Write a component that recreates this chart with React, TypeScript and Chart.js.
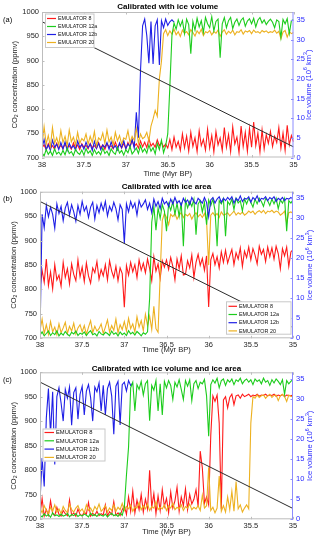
import React, { useEffect, useRef } from "react";
import { Chart, registerables } from "chart.js";
Chart.register(...registerables);

const FONT = "'Liberation Sans', Arial, Helvetica, sans-serif";

// sampling grid of the model runs: 38 -> 35 Myr BP every 0.025 Myr (121 samples)
const TIMES: number[] = Array.from({ length: 121 }, (_, i) => Math.round((38 - 0.025 * i) * 1000) / 1000);

const X_TICKS = [38, 37.5, 37, 36.5, 36, 35.5, 35];
const CO2_TICKS = [700, 750, 800, 850, 900, 950, 1000];
const ICE_TICKS = [0, 5, 10, 15, 20, 25, 30, 35];

// prescribed CO2 (left axis)
const CO2_TIMES = [38, 35];
const CO2_VALUES = [980, 722];

const SERIES_NAMES = ["EMULATOR 8", "EMULATOR 12a", "EMULATOR 12b", "EMULATOR 20"];
const SERIES_COLORS = ["#ff1a1a", "#1ccc1c", "#1f1fe6", "#edb120"];

// ---- (a) calibrated with ice volume (ice volume, 10^6 km^3) ----
const A_E8 = [2.5,3.2,2.0,3.5,2.4,3.0,2.1,3.6,2.3,3.1,
  2.2,3.4,2.6,3.0,2.1,3.7,2.4,3.2,2.0,3.5,
  2.6,3.1,2.2,3.6,2.5,3.0,2.3,3.8,2.4,3.2,
  2.1,3.5,2.7,3.0,2.2,3.9,2.5,3.3,2.4,3.6,
  2.2,3.8,2.6,4.4,2.8,3.5,2.4,4.2,2.7,3.9,
  2.5,4.8,2.9,3.6,2.6,4.5,3.0,3.8,2.7,3.4,
  2.4,4.6,2.0,5.2,2.6,4.1,1.8,6.0,2.5,5.4,
  1.6,6.4,2.8,5.0,1.5,6.8,3.0,4.6,1.9,7.2,
  2.4,5.6,1.4,6.6,3.2,5.0,1.8,7.6,2.6,5.8,
  1.5,7.8,3.4,5.2,1.2,8.0,2.8,6.4,1.6,7.4,
  2.6,9.0,3.0,6.2,1.4,7.0,2.2,5.8,3.6,6.6,
  2.8,5.4,3.8,7.6,2.4,6.2,1.8,8.2,3.2,5.6,4.0];
const A_E12A = [1.2,0.4,2.0,0.8,1.6,0.5,2.2,0.9,1.4,0.6,
  1.8,0.7,2.4,1.0,1.5,0.5,2.1,1.2,0.8,1.9,
  0.6,2.3,1.1,1.7,0.5,2.0,0.9,1.5,0.7,2.4,
  1.0,1.6,0.5,2.2,1.3,0.8,2.6,1.1,1.8,0.6,
  2.0,1.2,2.8,0.9,1.6,2.4,1.0,3.0,1.4,2.2,
  1.1,3.2,1.6,2.5,0.9,3.6,2.0,4.4,1.2,3.0,
  6.0,18.0,31.0,34.2,32.6,35.0,33.4,34.8,31.5,35.2,
  33.8,26.4,34.6,32.4,35.4,33.2,34.8,31.8,35.6,34.0,
  33.0,35.8,32.2,34.6,35.2,25.4,34.0,35.6,33.0,34.8,
  35.6,32.8,34.4,35.2,33.6,34.9,35.5,33.4,34.7,35.3,
  34.0,35.4,33.2,34.9,35.6,34.2,35.0,33.8,34.6,35.2,
  34.4,33.0,35.0,34.6,30.5,35.1,34.0,35.3,31.5,34.8,35.1];
const A_E12B = [2.4,4.6,2.0,3.2,1.8,4.4,2.6,3.4,2.0,3.8,
  2.2,4.0,1.8,3.6,2.4,3.0,1.9,4.2,2.6,3.3,
  2.1,3.9,2.5,3.4,1.8,4.1,2.3,3.6,2.0,3.2,
  2.6,3.8,2.1,4.0,2.4,3.0,1.9,3.7,2.5,4.3,
  2.2,3.5,2.8,4.6,2.4,11.5,5.0,22.0,33.5,35.2,
  31.0,24.0,34.6,23.8,33.5,35.0,23.5,34.8,33.0,35.2,
  33.6,34.5,35.0,34.4];
const A_E20 = [3.0,7.8,3.4,5.6,2.8,7.6,3.6,5.0,3.2,6.8,
  3.8,5.4,3.0,7.0,4.0,5.2,3.2,6.4,3.6,4.8,
  4.2,6.0,3.4,5.4,3.8,6.6,3.0,5.0,4.4,6.2,
  3.6,7.0,4.0,5.2,3.2,6.4,4.2,5.6,3.4,5.0,
  4.6,6.8,3.8,5.4,4.4,7.4,3.6,6.0,4.8,5.2,
  6.4,4.2,8.0,9.8,12.0,10.5,20.0,24.5,31.5,32.5,
  31.0,32.2,31.4,32.6,31.2,32.0,30.8,32.4,31.6,32.0,
  31.2,32.5,31.8,30.9,32.2,31.5,32.6,31.0,32.0,31.7,
  32.3,31.2,32.0,31.6,32.4,30.8,31.9,32.5,31.3,32.1,
  31.6,32.4,31.2,32.0,31.8,32.5,31.4,32.2,31.9,32.3,
  31.5,32.4,31.8,32.0,31.6,32.3,31.9,32.2,31.7,32.0,
  31.8,32.4,31.6,32.1,30.2,31.9,32.3,30.6,32.0,31.5,31.8];

// ---- (b) calibrated with ice area ----
const B_E8 = [12.5,17.0,14.0,19.8,13.2,16.6,12.4,18.4,14.6,15.8,
  13.0,19.0,15.2,17.4,13.6,18.6,16.0,14.4,19.6,15.4,
  17.8,14.2,18.8,15.6,13.8,17.6,16.4,19.2,14.8,17.2,
  15.6,18.4,14.6,19.4,16.8,15.2,18.0,14.4,17.6,16.2,
  7.8,18.2,15.8,19.0,16.6,18.4,15.2,19.6,17.0,18.8,
  16.4,19.8,17.4,14.4,20.4,16.8,18.6,15.0,19.4,17.8,
  19.6,17.2,20.2,18.0,14.6,19.8,17.4,20.6,15.8,16.0,
  19.4,17.6,20.8,15.2,19.0,21.0,18.2,20.0,17.0,20.6,
  7.8,19.6,21.2,18.4,20.4,17.6,21.6,19.0,22.0,18.8,
  20.6,22.2,18.4,21.4,19.8,22.6,18.0,21.8,20.2,22.8,
  19.6,22.4,20.8,18.6,23.0,21.0,22.2,19.2,22.8,20.4,
  22.6,19.8,23.0,21.2,17.4,22.4,20.6,22.8,18.0,21.6,22.2];
const B_E12A = [0.8,1.6,0.6,1.2,1.8,0.7,1.4,0.9,1.9,0.6,
  1.3,0.8,1.7,1.0,0.6,1.5,1.1,1.8,0.7,1.3,
  1.0,1.6,0.7,1.4,1.9,0.9,1.2,0.6,1.7,1.1,
  0.8,1.5,1.2,0.7,1.8,1.0,1.4,0.6,1.6,0.9,
  1.3,0.7,1.9,1.1,1.5,0.8,1.7,1.2,0.6,1.4,
  1.0,1.6,10.0,29.0,33.0,27.0,32.6,30.0,33.4,31.8,
  26.8,33.6,32.0,34.2,31.0,33.8,30.5,34.0,23.0,34.6,
  32.6,34.2,33.0,34.8,25.9,33.6,34.4,31.6,34.0,28.4,
  34.6,33.2,34.8,32.0,23.0,34.4,33.6,34.9,25.5,34.2,
  33.4,34.8,32.2,35.0,33.8,34.4,31.8,34.9,33.6,35.0,
  34.0,32.8,34.8,33.6,35.0,34.2,33.0,34.9,34.4,33.2,
  34.8,33.6,35.0,32.4,34.6,33.8,35.0,26.8,34.4,33.8,34.6];
const B_E12B = [0.5,31.0,27.6,33.2,30.4,32.8,31.0,27.5,33.6,31.2,
  33.0,29.4,32.6,34.0,30.8,33.4,31.6,29.3,33.2,31.0,
  34.2,31.8,33.0,30.2,32.8,34.0,29.8,33.2,31.4,33.8,
  32.0,34.2,30.6,33.0,31.8,34.0,32.4,29.6,33.4,32.2,
  23.8,33.6,31.6,34.2,32.6,33.8,30.8,34.4,32.8,33.6,
  34.6,32.2,33.8,31.4,34.8,33.0,34.2,32.4,35.0,33.6,
  34.2,33.0,34.8,33.6,35.2,33.8,34.4,33.2,35.0,34.0,
  34.6,33.4,35.2,34.2,33.6,35.0,34.4,33.8,35.2,34.0,
  30.4,34.6,35.2,33.8,34.8,35.4,34.0,35.0,34.4,35.2,
  34.6,35.4,33.8,35.0,34.4,35.6,34.2,35.0,34.8,35.4,
  34.0,35.2,34.6,35.6,34.2,35.0,34.8,35.4,34.4,35.2,
  34.8,35.4,34.2,35.0,34.6,35.2,34.4,35.0,34.8,35.2,34.6];
const B_E20 = [2.0,4.8,1.2,3.4,1.0,4.2,1.6,2.8,0.9,3.6,
  1.4,2.6,4.0,1.2,3.0,1.8,3.8,1.1,2.6,3.4,
  1.6,3.2,1.0,2.8,4.4,1.4,3.0,1.8,2.4,3.6,
  1.2,2.8,4.6,1.6,3.2,2.0,4.8,1.4,3.4,2.2,
  4.2,1.8,5.0,2.4,3.6,1.6,5.4,2.8,4.4,1.9,
  6.0,3.2,5.6,2.2,8.0,2.4,1.5,16.0,29.5,31.2,
  30.2,28.4,31.0,30.4,31.2,29.8,30.8,31.4,30.2,31.0,
  30.6,31.2,29.8,30.8,31.4,30.4,31.0,30.2,31.2,29.4,
  18.3,30.8,31.4,30.6,31.2,30.2,31.6,30.8,31.0,31.4,
  30.6,31.2,31.8,30.8,31.4,31.0,31.6,30.8,31.2,31.8,
  31.4,31.8,31.0,31.6,31.9,31.4,32.0,31.2,31.8,31.6,
  32.0,31.4,31.8,31.6,30.8,31.2,31.8,28.8,31.4,31.6,31.2];

// ---- (c) calibrated with ice volume and ice area ----
const C_E8 = [1.2,5.2,0.8,2.4,1.0,4.6,1.4,0.9,3.0,1.2,
  0.8,2.2,1.4,0.9,4.8,1.0,1.6,0.8,2.6,1.2,
  0.9,1.8,1.3,4.2,0.8,1.5,1.0,2.0,0.9,1.4,
  1.1,3.6,0.8,1.9,1.2,4.4,1.0,1.6,0.9,2.4,
  3.4,1.2,5.6,2.0,7.0,1.6,4.8,2.4,6.2,1.8,
  5.0,2.6,12.2,3.0,6.4,1.4,5.8,2.2,7.4,3.2,
  5.2,1.6,6.8,2.8,4.6,8.0,2.0,5.6,3.4,7.6,
  2.4,6.2,3.8,5.0,7.4,3.2,17.0,12.8,4.0,5.6,
  3.6,21.0,30.8,29.4,31.0,24.0,2.6,29.8,30.6,27.8,
  30.4,31.2,28.6,30.8,31.0,30.2,31.2,30.6,30.9,31.2,
  30.6,31.0,30.8,31.2,30.7,31.0,30.9,31.2,30.8,31.0,
  30.9,31.2,30.7,31.0,30.8,31.1,30.6,31.0,30.9,30.8,31.0];
const C_E12A = [1.0,0.6,1.4,0.8,1.2,0.5,1.6,0.9,1.1,0.7,
  1.3,0.8,1.0,1.5,0.6,1.2,0.9,1.4,0.7,1.1,
  0.8,1.3,1.0,0.6,1.5,0.9,1.2,0.7,1.4,1.0,
  0.8,1.3,0.6,1.1,1.5,0.9,1.2,0.7,1.6,1.0,
  3.0,11.0,18.0,32.8,34.2,27.0,33.6,32.4,34.4,31.0,
  33.8,34.6,24.6,33.4,32.2,34.6,27.0,33.8,26.0,34.4,
  32.8,34.6,33.4,29.9,34.2,33.0,34.8,32.4,29.9,34.6,
  33.2,34.8,29.6,33.8,34.6,32.6,34.2,33.8,34.9,30.8,
  20.7,33.6,34.8,34.0,35.2,32.8,34.6,35.0,33.4,34.8,
  34.2,35.0,33.6,34.8,34.4,35.2,33.8,34.6,35.0,34.2,
  34.8,33.6,35.0,34.4,34.8,33.8,35.2,34.2,34.6,33.4,
  34.8,34.0,35.0,34.4,33.6,34.8,31.2,34.6,33.8,34.4,34.9];
const C_E12B = [4.4,15.3,8.2,25.3,32.6,21.2,31.8,13.7,30.6,32.8,
  29.0,24.5,32.4,30.2,33.0,23.5,31.6,32.8,25.0,31.2,
  33.2,26.0,32.0,33.6,30.4,24.5,33.0,31.8,34.0,27.0,
  33.4,26.0,32.6,34.2,30.8,21.2,33.2,34.4,23.5,33.6,
  34.2,32.0,34.6,33.4,34.0];
const C_E20 = [2.8,1.6,3.4,2.2,1.4,3.0,2.0,3.6,1.8,2.6,
  1.4,3.2,2.2,1.6,3.8,2.4,1.8,2.8,3.4,2.0,
  2.6,1.6,3.6,2.2,2.8,1.8,3.2,2.4,3.8,2.0,
  2.6,3.4,1.8,2.8,2.2,3.6,2.0,3.0,2.4,4.0,
  2.2,3.2,2.6,3.6,2.0,3.0,2.8,4.2,2.4,3.4,
  2.6,3.8,2.2,3.2,2.8,4.4,2.4,3.0,2.6,3.6,
  2.2,3.4,2.8,4.0,2.4,3.0,2.6,3.6,2.2,3.2,
  2.8,3.8,2.4,3.0,2.6,3.4,2.2,6.0,2.8,3.4,
  13.0,2.2,3.0,1.6,2.8,10.8,2.0,3.4,1.8,5.6,
  2.4,7.0,2.0,9.4,2.6,3.6,1.8,2.8,3.6,2.6,
  24.0,30.6,30.2,31.0,30.4,30.8,31.0,30.2,30.8,31.2,
  30.4,30.9,31.0,29.6,30.8,31.2,30.6,29.4,31.0,30.7,30.5];

type Legend = { x: number; y: number; w: number; h: number; row0: number; rowH: number; l0: number; l1: number; tx: number; font: number };
type Spec = {
  title: string; label: string; top: number; height: number;
  plot: { left: number; right: number; top: number; bottom: number };
  iceMax: number; titleY: number; labelY: number; xTitleY: number; yTitleX: number; y2TitleX: number;
  series: (number | null)[][]; orders: number[]; legend: Legend;
};

const PANELS: Spec[] = [
  {
    title: "Calibrated with ice volume", label: "(a)", top: 0, height: 180,
    plot: { left: 42, right: 293.5, top: 12, bottom: 157.5 }, iceMax: 37.0,
    titleY: 7, labelY: 20, xTitleY: 174, yTitleX: 15, y2TitleX: 308.5,
    series: [A_E8, A_E12A, A_E12B, A_E20], orders: [4, 1, 3, 2],
    legend: { x: 45, y: 13.5, w: 49.5, h: 34.5, row0: 18.5, rowH: 8, l0: 47, l1: 56, tx: 58, font: 5.3 },
  },
  {
    title: "Calibrated with ice area", label: "(b)", top: 180, height: 180,
    plot: { left: 40, right: 293, top: 11.7, bottom: 158.3 }, iceMax: 36.65,
    titleY: 7, labelY: 19, xTitleY: 170, yTitleX: 13.5, y2TitleX: 310,
    series: [B_E8, B_E12A, B_E12B, B_E20], orders: [4, 2, 1, 3],
    legend: { x: 226, y: 121.3, w: 65.5, h: 33.4, row0: 126.3, rowH: 8.2, l0: 228.5, l1: 237, tx: 239, font: 5.4 },
  },
  {
    title: "Calibrated with ice volume and ice area", label: "(c)", top: 360, height: 183,
    plot: { left: 40, right: 293, top: 12.3, bottom: 159.3 }, iceMax: 36.67,
    titleY: 8.3, labelY: 20, xTitleY: 171.7, yTitleX: 13.5, y2TitleX: 310,
    series: [C_E8, C_E12A, C_E12B, C_E20], orders: [3, 1, 4, 2],
    legend: { x: 42.5, y: 68.5, w: 63, h: 33, row0: 72.5, rowH: 8.3, l0: 44.5, l1: 54, tx: 56, font: 5.8 },
  },
];

const FRAME = "#bdbdbd";
const RIGHT_AXIS = "#8c8cff";
const RIGHT_TEXT = "#2a2aff";
const TEXT = "#262626";

type Seg = { t: string; s: number; dy?: number; bold?: boolean };
function drawRich(ctx: CanvasRenderingContext2D, segs: Seg[], x: number, y: number, rot: number, color: string) {
  ctx.save();
  ctx.translate(x, y);
  ctx.rotate(rot);
  ctx.fillStyle = color;
  ctx.textBaseline = "middle";
  ctx.textAlign = "left";
  let total = 0;
  for (const g of segs) {
    ctx.font = `${g.bold ? "bold " : ""}${g.s}px ${FONT}`;
    total += ctx.measureText(g.t).width;
  }
  let cx = -total / 2;
  for (const g of segs) {
    ctx.font = `${g.bold ? "bold " : ""}${g.s}px ${FONT}`;
    ctx.fillText(g.t, cx, g.dy || 0);
    cx += ctx.measureText(g.t).width;
  }
  ctx.restore();
}

function makePlugin(spec: Spec) {
  return {
    id: "decor" + spec.label.replace(/\W/g, ""),
    afterDraw(chart: any) {
      const ctx: CanvasRenderingContext2D = chart.ctx;
      const ca = chart.chartArea;
      const xs = chart.scales.x, ys = chart.scales.y, y2 = chart.scales.y2;
      ctx.save();
      ctx.lineWidth = 1;
      // frame
      ctx.strokeStyle = FRAME;
      ctx.beginPath();
      ctx.moveTo(ca.right, ca.top + 0.5); ctx.lineTo(ca.left + 0.5, ca.top + 0.5);
      ctx.lineTo(ca.left + 0.5, ca.bottom - 0.5); ctx.lineTo(ca.right, ca.bottom - 0.5);
      for (const v of X_TICKS) {
        const px = Math.round(xs.getPixelForValue(v)) + 0.5;
        ctx.moveTo(px, ca.bottom); ctx.lineTo(px, ca.bottom - 2.5);
        ctx.moveTo(px, ca.top); ctx.lineTo(px, ca.top + 2.5);
      }
      for (const v of CO2_TICKS) {
        const py = Math.round(ys.getPixelForValue(v)) + 0.5;
        ctx.moveTo(ca.left, py); ctx.lineTo(ca.left + 2.5, py);
      }
      ctx.stroke();
      ctx.strokeStyle = RIGHT_AXIS;
      ctx.beginPath();
      ctx.moveTo(ca.right - 0.5, ca.top); ctx.lineTo(ca.right - 0.5, ca.bottom);
      for (const v of ICE_TICKS) {
        const py = Math.round(y2.getPixelForValue(v)) + 0.5;
        ctx.moveTo(ca.right, py); ctx.lineTo(ca.right - 2.5, py);
      }
      ctx.stroke();

      // legend
      const L = spec.legend;
      ctx.fillStyle = "#ffffff";
      ctx.fillRect(L.x, L.y, L.w, L.h);
      ctx.strokeStyle = "#c8c8c8";
      ctx.strokeRect(L.x + 0.5, L.y + 0.5, L.w - 1, L.h - 1);
      ctx.font = `${L.font}px ${FONT}`;
      ctx.textBaseline = "middle";
      ctx.textAlign = "left";
      SERIES_NAMES.forEach((n, i) => {
        const yy = L.row0 + i * L.rowH;
        ctx.strokeStyle = SERIES_COLORS[i];
        ctx.lineWidth = 1.2;
        ctx.beginPath(); ctx.moveTo(L.l0, yy); ctx.lineTo(L.l1, yy); ctx.stroke();
        ctx.fillStyle = "#111";
        ctx.fillText(n, L.tx, yy + 0.3);
      });

      // texts
      const cxp = (ca.left + ca.right) / 2;
      const cyp = (ca.top + ca.bottom) / 2;
      drawRich(ctx, [{ t: spec.title, s: 8, bold: true }], cxp, spec.titleY, 0, "#000");
      ctx.font = `7.5px ${FONT}`;
      ctx.fillStyle = "#000";
      ctx.textAlign = "left";
      ctx.fillText(spec.label, 3, spec.labelY);
      drawRich(ctx, [{ t: "Time (Myr BP)", s: 7.6 }], cxp, spec.xTitleY, 0, TEXT);
      drawRich(ctx, [{ t: "CO", s: 7.6 }, { t: "2", s: 5.2, dy: 2 }, { t: " concentration (ppmv)", s: 7.6 }], spec.yTitleX, cyp, -Math.PI / 2, TEXT);
      drawRich(ctx, [{ t: "Ice volume (10", s: 7.6 }, { t: "6", s: 5.2, dy: -2.5 }, { t: " km", s: 7.6 }, { t: "3", s: 5.2, dy: -2.5 }, { t: ")", s: 7.6 }], spec.y2TitleX, cyp, -Math.PI / 2, RIGHT_TEXT);
      ctx.restore();
    },
  };
}

function buildConfig(spec: Spec): any {
  const pts = (vals: (number | null)[]) => TIMES.map((t, i) => ({ x: t, y: i < vals.length ? vals[i] : null }));
  const datasets: any[] = [
    {
      label: "CO2", data: CO2_TIMES.map((t, i) => ({ x: t, y: CO2_VALUES[i] })), yAxisID: "y",
      borderColor: "#2b2b2b", borderWidth: 1, pointRadius: 0, order: 0,
    },
    ...spec.series.map((s, i) => ({
      label: SERIES_NAMES[i], data: pts(s), yAxisID: "y2", borderColor: SERIES_COLORS[i],
      borderWidth: 1.1, pointRadius: 0, tension: 0, spanGaps: false, order: spec.orders[i],
    })),
  ];
  const tickFont = { family: FONT, size: 7.5 };
  const fmt = (v: any) => String(v);
  return {
    type: "line",
    data: { datasets },
    options: {
      responsive: false, animation: false, devicePixelRatio: 1,
      layout: { padding: { top: spec.plot.top, left: 0, right: 0, bottom: 0 } },
      plugins: { legend: { display: false }, tooltip: { enabled: false }, title: { display: false } },
      scales: {
        x: {
          type: "linear", min: 35, max: 38, reverse: true,
          grid: { display: false, drawTicks: false }, border: { display: false },
          ticks: { stepSize: 0.5, includeBounds: false, autoSkip: false, maxRotation: 0, padding: 2.5, color: TEXT, font: tickFont, callback: fmt },
          afterFit: (s: any) => { s.height = spec.height - spec.plot.bottom; },
        },
        y: {
          type: "linear", position: "left", min: 700, max: 1000,
          grid: { display: false, drawTicks: false }, border: { display: false },
          ticks: { stepSize: 50, includeBounds: false, padding: 3, color: TEXT, font: tickFont, callback: fmt },
          afterFit: (s: any) => { s.width = spec.plot.left; },
        },
        y2: {
          type: "linear", position: "right", min: 0, max: spec.iceMax,
          grid: { display: false, drawTicks: false }, border: { display: false },
          ticks: { stepSize: 5, includeBounds: false, padding: 3, color: RIGHT_TEXT, font: tickFont, callback: fmt },
          afterFit: (s: any) => { s.width = 320 - spec.plot.right; },
        },
      },
    },
    plugins: [makePlugin(spec)],
  };
}

function Panel({ spec }: { spec: Spec }) {
  const ref = useRef<HTMLCanvasElement>(null);
  useEffect(() => {
    const chart = new Chart(ref.current as HTMLCanvasElement, buildConfig(spec));
    return () => chart.destroy();
  }, [spec]);
  return (
    <canvas ref={ref} width={320} height={spec.height}
      style={{ position: "absolute", left: 0, top: spec.top, width: 320, height: spec.height, display: "block" }} />
  );
}

export default function App() {
  return (
    <div style={{ position: "absolute", left: 0, top: 0, width: 320, height: 543, background: "#fff", overflow: "hidden" }}>
      {PANELS.map((p) => <Panel key={p.label} spec={p} />)}
    </div>
  );
}
